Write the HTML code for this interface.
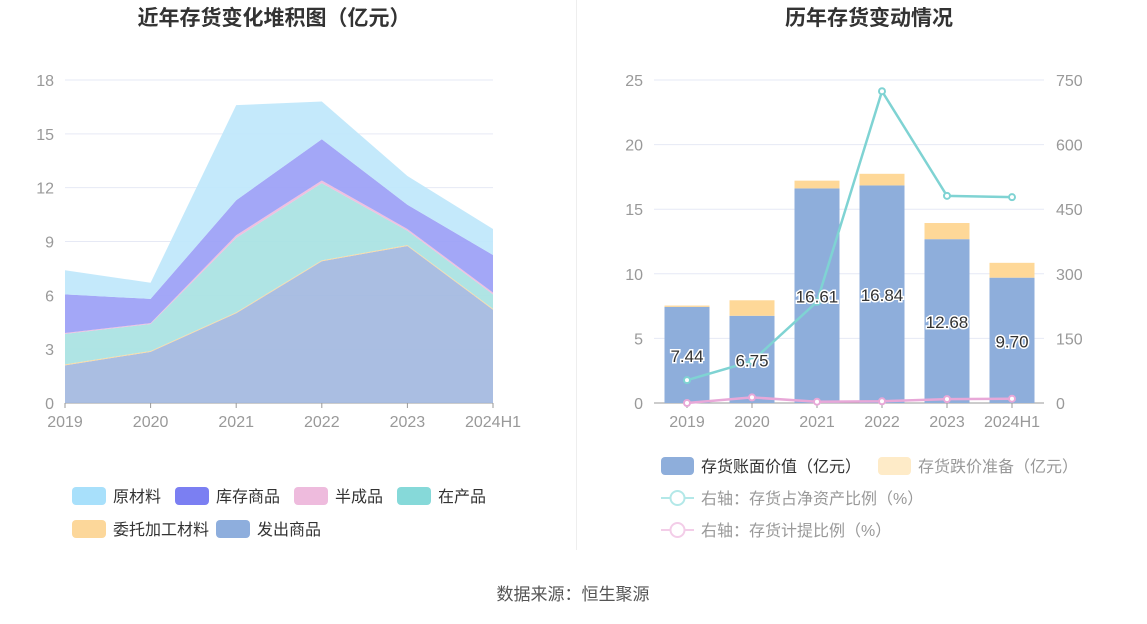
<!DOCTYPE html>
<html><head><meta charset="utf-8"><style>
body{margin:0;background:#fff;font-family:"Liberation Sans","Noto Sans CJK SC",sans-serif;}
svg text{font-family:"Liberation Sans","Noto Sans CJK SC",sans-serif;}
</style></head><body>
<svg id="s" width="1147" height="619" viewBox="0 0 1147 619" xmlns="http://www.w3.org/2000/svg">
<rect width="1147" height="619" fill="#fff"/>
<text x="274" y="25" text-anchor="middle" font-size="21" font-weight="bold" fill="#333">近年存货变化堆积图（亿元）</text>
<text x="869" y="25" text-anchor="middle" font-size="21" font-weight="bold" fill="#333">历年存货变动情况</text>
<line x1="576.5" y1="0" x2="576.5" y2="550" stroke="#eee"/>
<g id="left"></g>
<g id="right"></g>
<text x="573" y="600" text-anchor="middle" font-size="17" fill="#555">数据来源：恒生聚源</text>
</svg>
<script>
const NS="http://www.w3.org/2000/svg";
const cats=["2019","2020","2021","2022","2023","2024H1"];
// left stacked series (亿元), bottom to top
const faChu=[2.1,2.85,5.0,7.9,8.75,5.2];
const weiTuo=[0.05,0.05,0.05,0.05,0.05,0.05];
const zaiChan=[1.7,1.5,4.15,4.3,0.8,0.8];
const banCheng=[0.05,0.05,0.15,0.15,0.1,0.1];
const kuCun=[2.15,1.35,1.95,2.3,1.35,2.1];
const yuanCai=[1.35,0.9,5.3,2.1,1.6,1.45];
const leftTicks=[0,3,6,9,12,15,18];
// right chart
const bookVal=[7.44,6.75,16.61,16.84,12.68,9.70];
const reserve=[0.1,1.2,0.6,0.9,1.25,1.15];
const ratioNet=[53,97,235,724,481,478];
const ratioProv=[0,13,3,4,9,10];
const rightTicksL=[0,5,10,15,20,25];
const rightTicksR=[0,150,300,450,600,750];

function el(p,t,a){const e=document.createElementNS(NS,t);for(const k in a)e.setAttribute(k,a[k]);p.appendChild(e);return e;}
const L=document.getElementById('left'),R=document.getElementById('right');
// left axes
const lx=i=>65+i*(493-65)/5, ly=v=>403-v*(323/18);
leftTicks.forEach(t=>{
 const g=el(L,'line',{x1:65,x2:493,y1:ly(t),y2:ly(t),stroke:t?'#e6e9f5':'#999'});
 
 
 const tx=el(L,'text',{x:54,y:ly(t)+6,'text-anchor':'end','font-size':16,fill:'#999'});tx.textContent=t;
 
 
});
const series=[[faChu,'#a3b9e0','发出商品'],[weiTuo,'#fcd79a','委托加工材料'],[zaiChan,'#a8e2e2','在产品'],[banCheng,'#eebbdd','半成品'],[kuCun,'#9b9ff6','库存商品'],[yuanCai,'#bfe7fb','原材料']];
let base=cats.map(()=>0);
series.forEach(([vals,col,nm])=>{
 const top=base.map((b,i)=>b+vals[i]);
 let d='M'+cats.map((c,i)=>lx(i)+','+ly(top[i])).join('L');
 for(let i=cats.length-1;i>=0;i--)d+='L'+lx(i)+','+ly(base[i]);
 const p=el(L,'path',{d:d+'Z',fill:col,'fill-opacity':0.92});
 
 
 base=top;
});
cats.forEach((c,i)=>{
 el(L,'line',{x1:lx(i),x2:lx(i),y1:403,y2:408,stroke:'#999'});
 const t=el(L,'text',{x:lx(i),y:427,'text-anchor':'middle','font-size':16,fill:'#999'});t.textContent=c;
 
 
});
const legL=[['原材料','#a8e0fb',72,496],['库存商品','#7b7ff2',175,496],['半成品','#eebbdd',294,496],['在产品','#86d9d9',397,496],['委托加工材料','#fcd79a',72,529],['发出商品','#8eaedd',216,529]];
legL.forEach(([n,c,x,y])=>{
 const g=el(L,'g',{});
 
 
 el(g,'rect',{x:x,y:y-9,width:34,height:18,rx:4,fill:c});
 const t=el(g,'text',{x:x+41,y:y+6,'font-size':16,fill:'#333'});t.textContent=n;
});
// right chart
const rx=i=>687+i*65, ry=v=>403-v*(323/25), ry2=v=>403-v*(323/750);
rightTicksL.forEach((t,k)=>{
 const g=el(R,'line',{x1:654,x2:1044,y1:ry(t),y2:ry(t),stroke:t?'#e6e9f5':'#999'});
 
 
 const a=el(R,'text',{x:643,y:ry(t)+6,'text-anchor':'end','font-size':16,fill:'#999'});a.textContent=t;
 
 
 const b=el(R,'text',{x:1056,y:ry2(rightTicksR[k])+6,'font-size':16,fill:'#999'});b.textContent=rightTicksR[k];
 
 
});
cats.forEach((c,i)=>{
 const b=el(R,'rect',{x:rx(i)-22.5,y:ry(bookVal[i]),width:45,height:ry(0)-ry(bookVal[i]),fill:'#8eaedb'});
 
 
 const r=el(R,'rect',{x:rx(i)-22.5,y:ry(bookVal[i]+reserve[i]),width:45,height:ry(bookVal[i])-ry(bookVal[i]+reserve[i]),fill:'#fed898'});
 
 
 el(R,'line',{x1:rx(i),x2:rx(i),y1:403,y2:408,stroke:'#999'});
 const t=el(R,'text',{x:rx(i),y:427,'text-anchor':'middle','font-size':16,fill:'#999'});t.textContent=c;
 
 
});
[[ratioNet,'#7fd3d3','line-net-asset-ratio'],[ratioProv,'#e8a8d8','line-provision-ratio']].forEach(([v,c,n])=>{
 const p=el(R,'polyline',{points:v.map((y,i)=>rx(i)+','+ry2(y)).join(' '),fill:'none',stroke:c,'stroke-width':2.5});
 
 
 v.forEach((y,i)=>{const m=el(R,'circle',{cx:rx(i),cy:ry2(y),r:3,fill:'#fff',stroke:c,'stroke-width':2});
  
  });
});
bookVal.forEach((v,i)=>{
 const t=el(R,'text',{x:rx(i),y:ry(v/2)+7,'text-anchor':'middle','font-size':17,fill:'#333',stroke:'#fff','stroke-width':3,'paint-order':'stroke'});
 t.textContent=v.toFixed(2);
 
 
});
const legR=[['存货账面价值（亿元）','#8eaedb',661,466,'rect','#333'],['存货跌价准备（亿元）','#feebc8',878,466,'rect','#999'],['右轴：存货占净资产比例（%）','#b3e8e8',661,498,'line','#999'],['右轴：存货计提比例（%）','#f3cde8',661,530,'line','#999']];
legR.forEach(([n,c,x,y,k,tc])=>{
 const g=el(R,'g',{});
 
 
 if(k=='rect')el(g,'rect',{x:x,y:y-9,width:33,height:18,rx:4,fill:c});
 else{el(g,'line',{x1:x,x2:x+33,y1:y,y2:y,stroke:c,'stroke-width':2});el(g,'circle',{cx:x+16.5,cy:y,r:7,fill:'#fff',stroke:c,'stroke-width':2});}
 const t=el(g,'text',{x:x+40,y:y+6,'font-size':16,fill:tc});t.textContent=n;
});
</script>
</body></html>
